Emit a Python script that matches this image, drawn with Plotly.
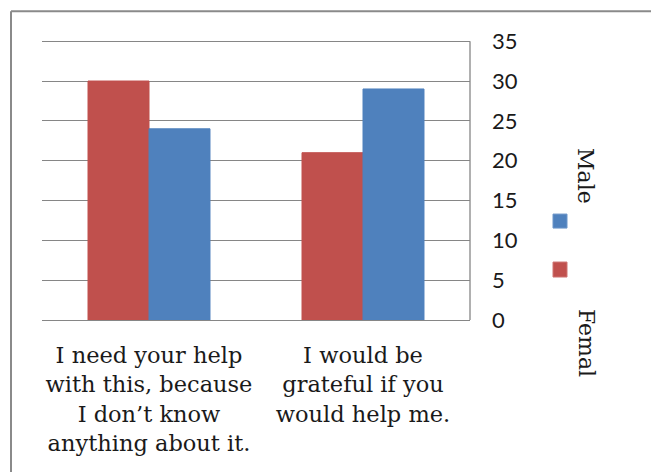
import plotly.graph_objects as go

categories = ["I need your help<br>with this, because<br>I don’t know<br>anything about it.",
              "I would be<br>grateful if you<br>would help me."]
series_names = ["Femal", "Male"]
female_values = [30, 21]
male_values = [24, 29]
colors = ["#C0504D", "#4F81BD"]
y_ticks = [0, 5, 10, 15, 20, 25, 30, 35]

W, H = 651, 472
L, R, T, B = 42, 470, 41, 320
Y_TOP = 35.4
T_PLOT = B - (B - T) * Y_TOP / 35.0

def px(x):
    return (x - L) / (R - L)

def py(y):
    return (B - y) / (B - T_PLOT)

fig = go.Figure()
for name, vals, col in zip(series_names, [female_values, male_values], colors):
    fig.add_trace(go.Bar(x=categories, y=vals, name=name,
                         marker=dict(color=col, line=dict(color=col, width=1))))

fig.update_layout(
    width=W, height=H,
    margin=dict(l=L, r=W - R, t=T_PLOT, b=H - B),
    paper_bgcolor="white", plot_bgcolor="white",
    barmode="group", bargap=0.43, bargroupgap=0,
    showlegend=False,
    xaxis=dict(showline=True, linecolor="#868686", linewidth=1.3, ticks="",
               tickfont=dict(family="DejaVu Serif", size=22.5, color="#1a1a1a"),
               ticklabelstandoff=15),
    yaxis=dict(side="right", range=[0, Y_TOP], tickvals=y_ticks,
               showgrid=True, gridcolor="#868686", gridwidth=1.3,
               showline=False, zeroline=False, ticks="", ticklabelstandoff=21,
               tickfont=dict(family="Lato", size=22, color="#1a1a1a")),
)

# right axis line from 0 to 35
fig.add_shape(type="line", xref="paper", yref="y",
              x0=1, x1=1, y0=0, y1=y_ticks[-1],
              line=dict(color="#868686", width=1.3))

# outer frame (top and left border)
fig.add_shape(type="line", xref="paper", yref="paper",
              x0=px(11), y0=py(11), x1=px(660), y1=py(11),
              line=dict(color="#8a8a8a", width=2))
fig.add_shape(type="line", xref="paper", yref="paper",
              x0=px(11), y0=py(11), x1=px(11), y1=py(480),
              line=dict(color="#8a8a8a", width=2))

# legend (rotated)
fig.add_shape(type="rect", xref="paper", yref="paper",
              x0=px(553), x1=px(567), y0=py(228), y1=py(214),
              fillcolor=colors[1], line=dict(color="#6d96c9", width=1))
fig.add_shape(type="rect", xref="paper", yref="paper",
              x0=px(553), x1=px(567), y0=py(277), y1=py(262),
              fillcolor=colors[0], line=dict(color="#cf7573", width=1))
fig.add_annotation(text=series_names[1], xref="paper", yref="paper",
                   x=px(586), y=py(176), showarrow=False, textangle=90,
                   xanchor="center", yanchor="middle",
                   font=dict(family="DejaVu Serif", size=22, color="#1a1a1a"))
fig.add_annotation(text=series_names[0], xref="paper", yref="paper",
                   x=px(586), y=py(343), showarrow=False, textangle=90,
                   xanchor="center", yanchor="middle",
                   font=dict(family="DejaVu Serif", size=22, color="#1a1a1a"))

fig.write_html("out.html")
